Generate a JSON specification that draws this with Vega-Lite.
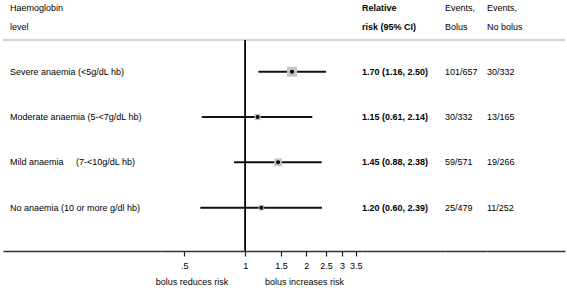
{
  "$schema": "https://vega.github.io/schema/vega-lite/v6.json",
  "padding": {"left": 2, "top": 4, "right": 3, "bottom": 3},
  "bounds": "flush",
  "spacing": 0,
  "datasets": {
    "rows": [
      {"row": 1, "label": "Severe anaemia  (<5g/dL hb)", "rr": 1.70, "lo": 1.16, "hi": 2.50, "weight": 26.0, "rrtext": "1.70 (1.16, 2.50)", "bolus": "101/657", "nobolus": "30/332"},
      {"row": 2, "label": "Moderate anaemia  (5-<7g/dL hb)", "rr": 1.15, "lo": 0.61, "hi": 2.14, "weight": 9.8, "rrtext": "1.15 (0.61, 2.14)", "bolus": "30/332", "nobolus": "13/165"},
      {"row": 3, "label": "Mild anaemia \u00a0\u00a0\u00a0 (7-<10g/dL hb)", "rr": 1.45, "lo": 0.88, "hi": 2.38, "weight": 15.5, "rrtext": "1.45 (0.88, 2.38)", "bolus": "59/571", "nobolus": "19/266"},
      {"row": 4, "label": "No anaemia (10 or more g/dl hb)", "rr": 1.20, "lo": 0.60, "hi": 2.39, "weight": 8.0, "rrtext": "1.20 (0.60, 2.39)", "bolus": "25/479", "nobolus": "11/252"}
    ]
  },
  "data": {"name": "rows"},
  "hconcat": [
    {
      "width": 158, "height": 211,
      "title": {"text": ["Haemoglobin", "level"], "dx": 7},
      "layer": [
        {"mark": {"type": "rule", "color": "#d4d4d4", "strokeWidth": 2},
         "encoding": {"y": {"datum": 0.3, "type": "quantitative", "scale": {"domain": [0.3, 4.956], "reverse": true, "nice": false, "zero": false}, "axis": null}}},
        {"mark": {"type": "text", "align": "left", "baseline": "middle", "dx": 7, "fontSize": 9},
         "encoding": {
           "x": {"datum": "a", "type": "nominal", "scale": {"type": "point", "padding": 0, "align": 0}, "axis": {"domain": true, "domainColor": "#333", "domainWidth": 1.5, "ticks": false, "labels": false, "title": null, "grid": false}},
           "y": {"field": "row", "type": "quantitative", "scale": {"domain": [0.3, 4.956], "reverse": true, "nice": false, "zero": false}, "axis": null},
           "text": {"field": "label"}
         }}
      ]
    },
    {
      "width": 201, "height": 211,
      "layer": [
        {"mark": {"type": "rule", "color": "#d4d4d4", "strokeWidth": 2},
         "encoding": {"y": {"datum": 0.3, "type": "quantitative", "scale": {"domain": [0.3, 4.956], "reverse": true, "nice": false, "zero": false}, "axis": null}}},
        {"mark": {"type": "rule", "color": "#000", "strokeWidth": 1.2},
         "encoding": {"x": {"datum": 1, "type": "quantitative", "scale": {"type": "log", "domain": [0.384, 3.762], "nice": false},
           "axis": {"orient": "bottom", "values": [0.5, 1, 1.5, 2, 2.5, 3, 3.5], "labelExpr": "datum.value < 1 ? '.5' : format(datum.value, '~g')", "domainColor": "#333", "domainWidth": 1.5, "tickColor": "#222", "tickWidth": 1.2, "tickSize": 5, "labelFontSize": 9, "labelPadding": 5, "labelColor": "#000", "labelFlush": false, "labelOverlap": false, "grid": false, "title": "bolus reduces risk", "titleFontSize": 9, "titleFontWeight": "normal", "titleColor": "#000", "titleX": 30.5, "titleY": 33, "titleAlign": "center", "titleBaseline": "alphabetic"}}}},
        {"mark": {"type": "rule", "color": "#111", "strokeWidth": 2},
         "encoding": {
           "x": {"field": "lo", "type": "quantitative", "scale": {"type": "log", "domain": [0.384, 3.762], "nice": false}, "axis": null},
           "x2": {"field": "hi"},
           "y": {"field": "row", "type": "quantitative", "scale": {"domain": [0.3, 4.956], "reverse": true, "nice": false, "zero": false}, "axis": null}
         }},
        {"mark": {"type": "point", "shape": "square", "filled": true, "color": "#c4c4c4", "opacity": 1},
         "encoding": {
           "x": {"field": "rr", "type": "quantitative", "scale": {"type": "log", "domain": [0.384, 3.762], "nice": false},
             "axis": {"orient": "bottom", "domain": false, "ticks": false, "labels": false, "grid": false, "title": "bolus increases risk", "titleFontSize": 9, "titleFontWeight": "normal", "titleColor": "#000", "titleX": 143, "titleY": 33, "titleAlign": "center", "titleBaseline": "alphabetic"}},
           "y": {"field": "row", "type": "quantitative", "scale": {"domain": [0.3, 4.956], "reverse": true, "nice": false, "zero": false}, "axis": null},
           "size": {"field": "weight", "type": "quantitative", "scale": {"domain": [0, 26], "range": [0, 100]}, "legend": null}
         }},
        {"mark": {"type": "point", "shape": "circle", "filled": true, "color": "#000", "size": 16, "opacity": 1},
         "encoding": {
           "x": {"field": "rr", "type": "quantitative", "scale": {"type": "log", "domain": [0.384, 3.762], "nice": false}, "axis": null},
           "y": {"field": "row", "type": "quantitative", "scale": {"domain": [0.3, 4.956], "reverse": true, "nice": false, "zero": false}, "axis": null}
         }}
      ],
      "resolve": {"axis": {"x": "independent"}}
    },
    {
      "width": 83, "height": 211,
      "title": {"text": ["Relative", "risk (95% CI)"], "fontWeight": "bold"},
      "layer": [
        {"mark": {"type": "rule", "color": "#d4d4d4", "strokeWidth": 2},
         "encoding": {"y": {"datum": 0.3, "type": "quantitative", "scale": {"domain": [0.3, 4.956], "reverse": true, "nice": false, "zero": false}, "axis": null}}},
        {"mark": {"type": "text", "align": "left", "baseline": "middle", "fontSize": 9, "fontWeight": "bold"},
         "encoding": {
           "x": {"datum": "a", "type": "nominal", "scale": {"type": "point", "padding": 0, "align": 0}, "axis": {"domain": true, "domainColor": "#333", "domainWidth": 1.5, "ticks": false, "labels": false, "title": null, "grid": false}},
           "y": {"field": "row", "type": "quantitative", "scale": {"domain": [0.3, 4.956], "reverse": true, "nice": false, "zero": false}, "axis": null},
           "text": {"field": "rrtext"}
         }}
      ]
    },
    {
      "width": 42, "height": 211,
      "title": {"text": ["Events,", "Bolus"]},
      "layer": [
        {"mark": {"type": "rule", "color": "#d4d4d4", "strokeWidth": 2},
         "encoding": {"y": {"datum": 0.3, "type": "quantitative", "scale": {"domain": [0.3, 4.956], "reverse": true, "nice": false, "zero": false}, "axis": null}}},
        {"mark": {"type": "text", "align": "left", "baseline": "middle", "fontSize": 9},
         "encoding": {
           "x": {"datum": "a", "type": "nominal", "scale": {"type": "point", "padding": 0, "align": 0}, "axis": {"domain": true, "domainColor": "#333", "domainWidth": 1.5, "ticks": false, "labels": false, "title": null, "grid": false}},
           "y": {"field": "row", "type": "quantitative", "scale": {"domain": [0.3, 4.956], "reverse": true, "nice": false, "zero": false}, "axis": null},
           "text": {"field": "bolus"}
         }}
      ]
    },
    {
      "width": 78, "height": 211,
      "title": {"text": ["Events,", "No bolus"]},
      "layer": [
        {"mark": {"type": "rule", "color": "#d4d4d4", "strokeWidth": 2},
         "encoding": {"y": {"datum": 0.3, "type": "quantitative", "scale": {"domain": [0.3, 4.956], "reverse": true, "nice": false, "zero": false}, "axis": null}}},
        {"mark": {"type": "text", "align": "left", "baseline": "middle", "fontSize": 9},
         "encoding": {
           "x": {"datum": "a", "type": "nominal", "scale": {"type": "point", "padding": 0, "align": 0}, "axis": {"domain": true, "domainColor": "#333", "domainWidth": 1.5, "ticks": false, "labels": false, "title": null, "grid": false}},
           "y": {"field": "row", "type": "quantitative", "scale": {"domain": [0.3, 4.956], "reverse": true, "nice": false, "zero": false}, "axis": null},
           "text": {"field": "nobolus"}
         }}
      ]
    }
  ],
  "config": {
    "font": "Liberation Sans",
    "view": {"stroke": null},
    "text": {"color": "#000"},
    "title": {"anchor": "start", "frame": "group", "fontSize": 9, "fontWeight": "normal", "lineHeight": 19, "baseline": "bottom", "offset": 7, "color": "#000"}
  }
}
